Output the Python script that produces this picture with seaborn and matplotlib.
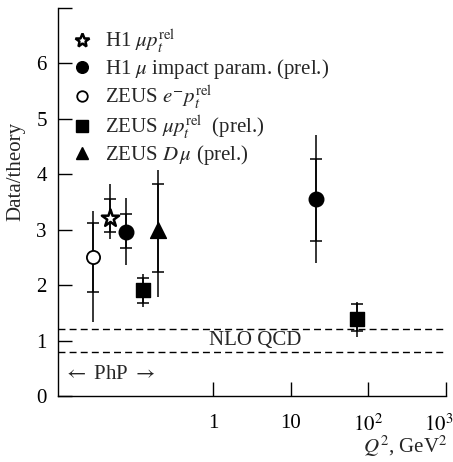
import numpy as np
import pandas as pd
import matplotlib
matplotlib.use("Agg")
import matplotlib.pyplot as plt
from matplotlib.lines import Line2D
import matplotlib.transforms as mtransforms
import seaborn as sns

# data (Q^2 positions of photoproduction points are nominal)
labels = [
    r"H1 $\mu p_t^{\mathrm{rel}}$",
    r"H1 $\mu$ impact param. (prel.)",
    r"ZEUS $e^{-}p_t^{\mathrm{rel}}$",
    r"ZEUS $\mu p_t^{\mathrm{rel}}$  (prel.)",
    r"ZEUS $D\,\mu$ (prel.)",
]
series = ["H1mu", "H1ip", "ZEUSe", "ZEUSmu", "ZEUSD", "H1ip", "ZEUSmu"]
q2 = [0.047, 0.076, 0.028, 0.126, 0.196, 21.0, 71.0]
ratio = [3.22, 2.95, 2.50, 1.91, 2.99, 3.55, 1.39]
stat_lo = [2.95, 2.67, 1.87, 1.68, 2.23, 2.79, 1.17]
stat_hi = [3.55, 3.28, 3.13, 2.12, 3.82, 4.27, 1.66]
tot_lo = [2.83, 2.36, 1.33, 1.60, 1.78, 2.40, 1.06]
tot_hi = [3.82, 3.57, 3.33, 2.21, 4.07, 4.70, 1.69]
nlo_band = [0.8, 1.2]

df = pd.DataFrame(dict(series=series, q2=q2, ratio=ratio, stat_lo=stat_lo,
                       stat_hi=stat_hi, tot_lo=tot_lo, tot_hi=tot_hi))

sns.set_theme(style="ticks")
plt.rcParams['font.family'] = ['Liberation Serif', 'DejaVu Serif']
plt.rcParams['mathtext.fontset'] = 'stix'
FS = 15

styles = {
    "H1mu":   dict(marker="*", s=170, facecolor="white", edgecolor="black", linewidth=1.8),
    "H1ip":   dict(marker="o", s=110, facecolor="black", edgecolor="black", linewidth=1),
    "ZEUSe":  dict(marker="o", s=90, facecolor="white", edgecolor="black", linewidth=1.3),
    "ZEUSmu": dict(marker="s", s=110, facecolor="black", edgecolor="black", linewidth=1),
    "ZEUSD":  dict(marker="^", s=130, facecolor="black", edgecolor="black", linewidth=1),
}
order = ["H1mu", "H1ip", "ZEUSe", "ZEUSmu", "ZEUSD"]

fig = plt.figure(figsize=(4.53, 4.62), dpi=100)
ax = fig.add_axes([58 / 453, 66 / 462, 388 / 453, 388 / 462])

# total errors (line) and statistical errors (ticks)
ax.errorbar(df.q2, df.ratio, yerr=[df.ratio - df.tot_lo, df.tot_hi - df.ratio],
            fmt="none", ecolor="black", elinewidth=1.1, capsize=0, zorder=2)
ax.errorbar(df.q2, df.ratio, yerr=[df.ratio - df.stat_lo, df.stat_hi - df.ratio],
            fmt="none", ecolor="black", elinewidth=1.1, capsize=4.5, capthick=1.1, zorder=2)

for key in order:
    sub = df[df.series == key]
    st = styles[key]
    sns.scatterplot(data=sub, x="q2", y="ratio", ax=ax, marker=st["marker"], s=st["s"],
                    color=st["facecolor"], edgecolor=st["edgecolor"],
                    linewidth=st["linewidth"], zorder=3, legend=False)

for yv in nlo_band:
    ax.axhline(yv, color="black", lw=1.0, ls=(0, (5, 3)), zorder=1)
ax.text(3.5, 1.0, "NLO QCD", ha="center", va="center", fontsize=FS)
ax.text(0.0116, 0.38, r"$\leftarrow$ PhP $\rightarrow$", ha="left", va="center", fontsize=FS)

ax.set_xscale("log")
ax.set_xlim(0.01, 1000)
ax.set_ylim(0, 7)
ax.set_xticks([1, 10, 100, 1000])
ax.set_xticklabels(["1", "10", r"$10^2$", r"$10^3$"])
ax.xaxis.set_minor_locator(matplotlib.ticker.NullLocator())
ax.set_yticks(range(8))
ax.set_yticklabels(["0", "1", "2", "3", "4", "5", "6", ""])
ax.tick_params(direction="in", length=10, width=1, labelsize=FS, color="black",
               labelcolor="black")
ax.tick_params(axis="x", pad=13)
ax.tick_params(axis="y", pad=8)
sns.despine(ax=ax)
for sp in ["left", "bottom"]:
    ax.spines[sp].set_color("black")
    ax.spines[sp].set_linewidth(1.0)

# last tick label sits at the figure edge, nudge it in
lab = ax.get_xticklabels()[-1]
lab.set_transform(lab.get_transform() + mtransforms.ScaledTranslation(-7 / 100, 0, fig.dpi_scale_trans))

ax.set_ylabel("Data/theory", fontsize=FS)
ax.yaxis.set_label_coords(-0.108, 0.58)
ax.yaxis.label.set_va("center")
ax.set_xlabel(r"$Q^2$, GeV$^2$", fontsize=FS)
ax.xaxis.set_label_coords(1.003, -0.13)
ax.xaxis.label.set_ha("right")
ax.xaxis.label.set_va("center")

handles = []
for key in order:
    st = styles[key]
    handles.append(Line2D([], [], ls="none", marker=st["marker"],
                          markersize=np.sqrt(st["s"]) * 0.8,
                          markerfacecolor=st["facecolor"], markeredgecolor="black",
                          markeredgewidth=st["linewidth"]))
ax.legend(handles, labels, loc="upper left", bbox_to_anchor=(0.036, 0.949), frameon=False,
          fontsize=FS, handlelength=1.0, handletextpad=0.6, labelspacing=0.12,
          borderpad=0, borderaxespad=0)

fig.savefig("out.png", dpi=100)
